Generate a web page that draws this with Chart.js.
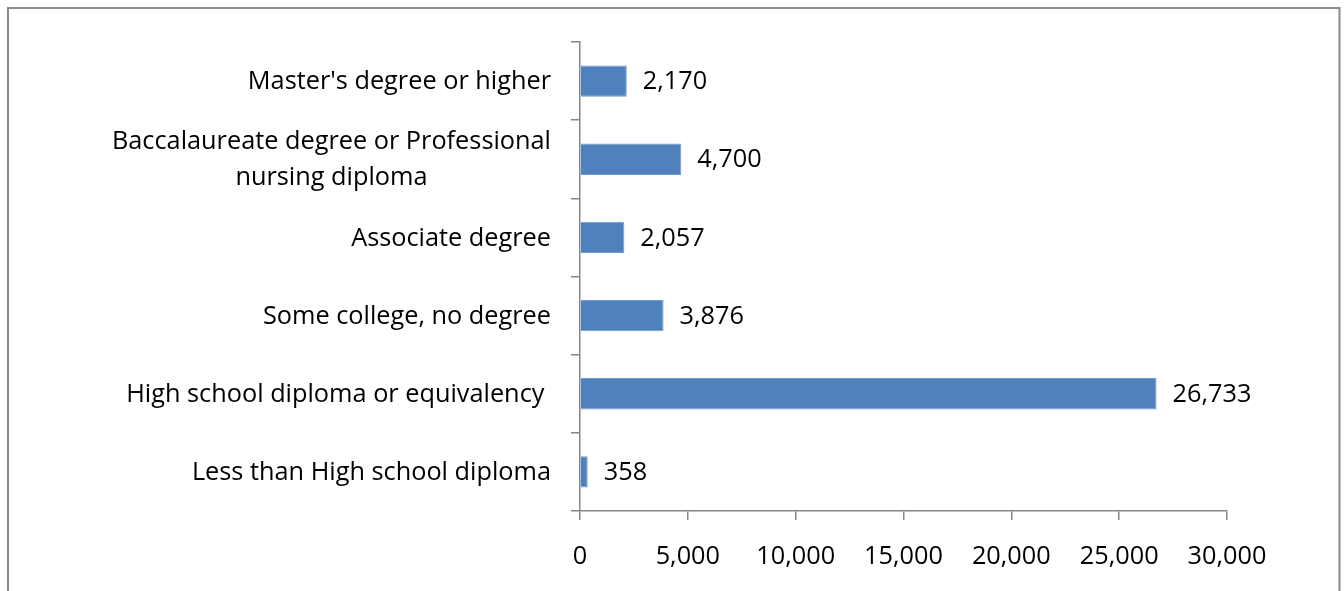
<!DOCTYPE html>
<html>
<head>
<meta charset="utf-8">
<script src="https://cdn.jsdelivr.net/npm/chart.js@4/dist/chart.umd.min.js"></script>
<style>
  html, body { margin: 0; padding: 0; background: #fff; }
  #wrap { position: relative; width: 1344px; height: 591px; }
  canvas { display: block; }
</style>
</head>
<body>
<div id="wrap"><canvas id="chart" width="1344" height="591"></canvas></div>
<script>
// Education level categories, listed top to bottom
const categories = [
  "Master's degree or higher",
  ["Baccalaureate degree or Professional", "nursing diploma"],
  "Associate degree",
  "Some college, no degree",
  "High school diploma or equivalency ",
  "Less than High school diploma"
];
const counts = [2170, 4700, 2057, 3876, 26733, 358];
const xTickMin = 0;
const xTickMax = 30000;
const xTickStep = 5000;

const FONT = "'Open Sans', Lato, sans-serif";
const FONT_SIZE = 25.3;
const AXIS_COLOR = '#868686';
const fmt = new Intl.NumberFormat('en-US');

// Outer frame of the chart object
const framePlugin = {
  id: 'frame',
  beforeDraw(chart) {
    const ctx = chart.ctx;
    ctx.save();
    ctx.fillStyle = '#fff';
    ctx.fillRect(0, 0, chart.width, chart.height);
    ctx.strokeStyle = '#8a8a8a';
    ctx.lineWidth = 2;
    ctx.beginPath();
    ctx.moveTo(8, chart.height + 5);
    ctx.lineTo(8, 8);
    ctx.lineTo(1339.5, 8);
    ctx.lineTo(1339.5, chart.height + 5);
    ctx.stroke();
    ctx.restore();
  }
};

// Category labels: block right-aligned beside the axis, lines centred on each other
const catLabelPlugin = {
  id: 'catLabels',
  afterDraw(chart) {
    const scale = chart.scales.y;
    const ctx = chart.ctx;
    const rightEdge = scale.right - 29;
    const lineH = 36;
    ctx.save();
    ctx.font = FONT_SIZE + 'px ' + FONT;
    ctx.fillStyle = '#000';
    ctx.textAlign = 'left';
    ctx.textBaseline = 'middle';
    chart.data.labels.forEach((lab, i) => {
      const lines = Array.isArray(lab) ? lab : [lab];
      const widest = Math.max(...lines.map(l => ctx.measureText(l).width));
      const left = rightEdge - widest;
      const cy = scale.getPixelForValue(i) + 1;
      const y0 = cy - (lines.length - 1) * lineH / 2;
      lines.forEach((l, k) => {
        const w = ctx.measureText(l).width;
        ctx.fillText(l, left + (widest - w) / 2, y0 + k * lineH);
      });
    });
    ctx.restore();
  }
};

// Value labels to the right of each bar
const valueLabelPlugin = {
  id: 'valueLabels',
  afterDatasetsDraw(chart) {
    const ctx = chart.ctx;
    const meta = chart.getDatasetMeta(0);
    ctx.save();
    ctx.font = FONT_SIZE + 'px ' + FONT;
    ctx.fillStyle = '#000';
    ctx.textAlign = 'left';
    ctx.textBaseline = 'middle';
    meta.data.forEach((bar, i) => {
      const v = chart.data.datasets[0].data[i];
      ctx.fillText(fmt.format(v), bar.x + 16, bar.y + 1);
    });
    ctx.restore();
  }
};

new Chart(document.getElementById('chart'), {
  type: 'bar',
  data: {
    labels: categories,
    datasets: [{
      data: counts,
      backgroundColor: '#4F81BD',
      borderColor: '#6F9BD1',
      borderWidth: 1,
      barPercentage: 0.8,
      categoryPercentage: 0.5
    }]
  },
  options: {
    indexAxis: 'y',
    responsive: false,
    animation: false,
    events: [],
    layout: { padding: { top: 42, right: 117, left: 0, bottom: 0 } },
    plugins: {
      legend: { display: false },
      tooltip: { enabled: false }
    },
    scales: {
      y: {
        type: 'category',
        offset: true,
        afterFit(scale) { scale.width = 580; },
        grid: {
          offset: true,
          drawOnChartArea: false,
          drawTicks: true,
          tickLength: 9,
          color: AXIS_COLOR,
          lineWidth: 1.5
        },
        border: { display: true, color: AXIS_COLOR, width: 1.5 },
        ticks: { display: false }
      },
      x: {
        type: 'linear',
        min: xTickMin,
        max: xTickMax,
        afterFit(scale) { scale.height = 80; },
        grid: {
          drawOnChartArea: false,
          drawTicks: true,
          tickLength: 9,
          color: AXIS_COLOR,
          lineWidth: 1.5
        },
        border: { display: true, color: AXIS_COLOR, width: 1.5 },
        ticks: {
          stepSize: xTickStep,
          color: '#000',
          padding: 22,
          maxRotation: 0,
          font: { family: FONT, size: FONT_SIZE },
          callback: v => fmt.format(v)
        }
      }
    }
  },
  plugins: [framePlugin, catLabelPlugin, valueLabelPlugin]
});
</script>
</body>
</html>
